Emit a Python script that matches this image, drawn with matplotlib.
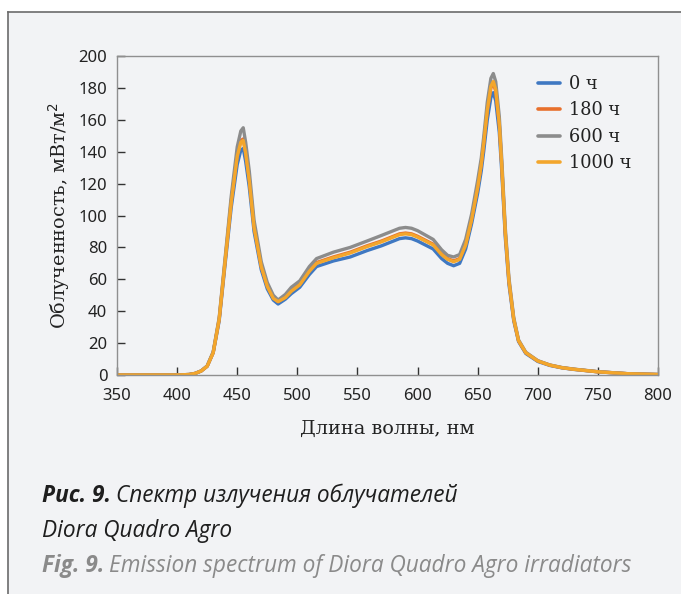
import matplotlib
matplotlib.use("Agg")
import matplotlib.pyplot as plt
from matplotlib import font_manager
from matplotlib.lines import Line2D

# ---------------- data ----------------
wavelength = [350, 400, 410, 415, 420, 425, 430, 435, 440, 445, 450, 453, 455, 457, 460, 464,
              470, 475, 480, 484, 490, 495, 502, 510, 516, 530, 544, 558, 570, 580, 585, 590,
              595, 600, 613, 620, 625, 630, 635, 640, 645, 650, 653, 655, 658, 661, 663, 665,
              668, 670, 673, 676, 680, 684, 690, 700, 710, 720, 730, 750, 775, 800]

h0 = [0, 0, 0.3, 1, 2.5, 5.5, 14, 34, 70, 105, 132, 141, 142, 134, 118, 90,
      66, 54, 47, 44.5, 47.5, 51, 55, 63, 68, 71.5, 74, 78, 81, 84, 85.5, 86,
      85.5, 84, 79, 73, 70, 68.5, 70, 79, 95, 114, 128, 140, 160, 174, 177, 172,
      152, 128, 86, 57, 34, 21, 13.5, 8.5, 6, 4.5, 3.5, 2, 0.8, 0.3]

h180 = [0, 0, 0.3, 1, 2.5, 5.5, 14, 35, 72, 109, 138, 147, 148, 140, 123, 93,
        68, 56, 48.5, 46, 49, 53, 57, 65.5, 70.5, 74, 77, 81, 84, 87, 88.5, 89,
        88.5, 87, 82, 76, 73, 71.5, 73, 82, 98, 118, 132, 145, 166, 180, 183, 178,
        157, 132, 89, 59, 35, 21.5, 14, 8.8, 6.2, 4.6, 3.6, 2, 0.8, 0.3]

h600 = [0, 0, 0.3, 1, 2.6, 5.7, 14.5, 36, 74, 112, 143, 153, 155, 146, 128, 97,
        71, 58, 50, 47, 50.5, 55, 59, 68, 73, 77, 80, 84, 87.5, 90.5, 92, 92.5,
        92, 90.5, 85, 78.5, 75, 74, 75.5, 85, 101, 122, 136, 149, 171, 186, 189, 184,
        162, 136, 92, 61, 36, 22, 14.3, 9, 6.3, 4.7, 3.7, 2.1, 0.8, 0.3]

h1000 = [0, 0, 0.3, 1, 2.5, 5.5, 14, 35, 72, 108, 137, 146, 147, 139, 122, 92.5,
         68, 55.5, 48, 46, 48.5, 52.5, 56.5, 65, 70, 73.5, 76.5, 80.5, 83.5, 86.5, 88, 88.5,
         88, 86.5, 81.5, 75.5, 72.5, 71, 72.5, 81.5, 97.5, 117.5, 132, 145, 166, 181, 184, 179,
         157.5, 132, 89, 59, 35, 21.5, 14, 8.8, 6.2, 4.6, 3.6, 2, 0.8, 0.3]

series_labels = ["0 ч", "180 ч", "600 ч", "1000 ч"]
series_colors = ["#3f78c2", "#e8702c", "#8c8c8c", "#f3a62c"]

x_ticks = [350, 400, 450, 500, 550, 600, 650, 700, 750, 800]
y_ticks = [0, 20, 40, 60, 80, 100, 120, 140, 160, 180, 200]

x_label = "Длина волны, нм"
y_label = "Облученность, мВт/м$^2$"

# ---------------- fonts ----------------
avail = {f.name for f in font_manager.fontManager.ttflist}
def pick(cands):
    for c in cands:
        if c in avail:
            return c
    return "DejaVu Sans"

serif_font = pick(["DejaVu Serif", "Liberation Serif"])
tick_font = pick(["Noto Sans", "Open Sans", "DejaVu Sans"])
cap_font = pick(["Open Sans", "Noto Sans", "Lato"])

W, H = 681, 594
BG = "#f2f3f5"
fig = plt.figure(figsize=(W / 100, H / 100), dpi=100, facecolor="white")

# panel background and frame
fig.patches.append(plt.Rectangle((8 / W, 0), 1, 1 - 12 / H, transform=fig.transFigure,
                                 facecolor=BG, edgecolor="none", zorder=-5))
fig.add_artist(Line2D([8 / W, 8 / W], [0, 1 - 12 / H], transform=fig.transFigure,
                      color="#6b6b6b", lw=1.2, zorder=-4))
fig.add_artist(Line2D([8 / W, 1], [1 - 12 / H, 1 - 12 / H], transform=fig.transFigure,
                      color="#6b6b6b", lw=1.2, zorder=-4))

ax_l, ax_r, ax_t, ax_b = 117, 658, 56, 375
ax = fig.add_axes([ax_l / W, (H - ax_b) / H, (ax_r - ax_l) / W, (ax_b - ax_t) / H])
ax.set_zorder(2)
ax.set_facecolor(BG)

for vals, lab, col in zip([h0, h180, h600, h1000], series_labels, series_colors):
    ax.plot(wavelength, vals, color=col, lw=2.4, label=lab, solid_capstyle="round",
            solid_joinstyle="round")

ax.set_xlim(350, 800)
ax.set_ylim(0, 200)
ax.set_xticks(x_ticks)
ax.set_yticks(y_ticks)
for s in ax.spines.values():
    s.set_color("#8f8f8f")
    s.set_linewidth(1.0)
ax.tick_params(direction="in", length=6, width=1, color="#333333",
               labelsize=12, labelcolor="#222222")
ax.tick_params(axis="x", pad=9)
ax.tick_params(axis="y", pad=7)
for lbl in ax.get_xticklabels() + ax.get_yticklabels():
    lbl.set_fontfamily(tick_font)

ax.set_xlabel(x_label, fontfamily=serif_font, fontsize=13.9, color="#222222", labelpad=12)
ax.set_ylabel(y_label, fontfamily=serif_font, fontsize=13.9, color="#222222", labelpad=5)

leg = ax.legend(loc="upper left", bbox_to_anchor=(529 / W, 1 - 66 / H),
                bbox_transform=fig.transFigure, frameon=False,
                prop={"family": serif_font, "size": 12.8}, handlelength=1.25,
                handletextpad=0.5, labelspacing=0.48, borderpad=0)
for t in leg.get_texts():
    t.set_color("#222222")
for h in leg.get_lines():
    h.set_linewidth(2.6)

# ---------------- caption ----------------
fig.canvas.draw()
renderer = fig.canvas.get_renderer()

def two_part(x, y_base, bold_txt, rest_txt, color, size):
    t1 = fig.text(x / W, 1 - y_base / H, bold_txt, fontfamily=cap_font, fontstyle="italic",
                  fontweight="bold", fontsize=size, color=color, va="baseline", ha="left")
    bb = t1.get_window_extent(renderer)
    fig.text((bb.x1 + 5) / W, 1 - y_base / H, rest_txt, fontfamily=cap_font,
             fontstyle="italic", fontsize=size, color=color, va="baseline", ha="left")

cap_size = 16.3
two_part(42, 502, "Рис. 9.", "Спектр излучения облучателей", "#1e1e1e", cap_size)
fig.text(42 / W, 1 - 537 / H, "Diora Quadro Agro", fontfamily=cap_font, fontstyle="italic",
         fontsize=cap_size, color="#1e1e1e", va="baseline", ha="left")
two_part(42, 572, "Fig. 9.", "Emission spectrum of Diora Quadro Agro irradiators", "#8a8a8a",
         cap_size)

fig.savefig("out.png", dpi=100, facecolor="white")
